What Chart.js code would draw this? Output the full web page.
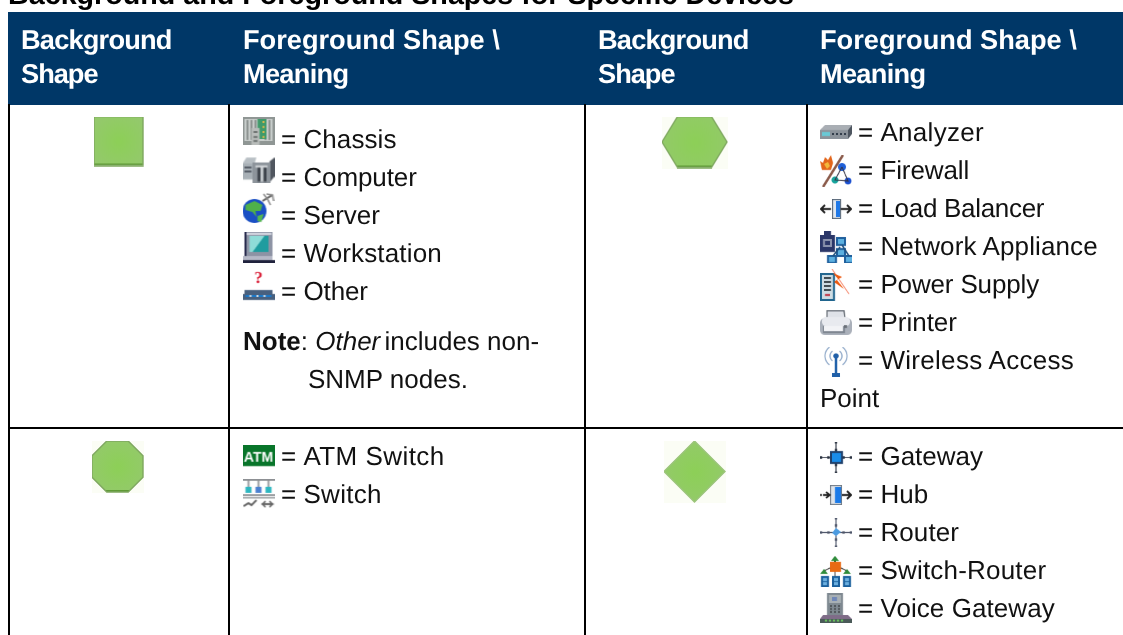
<!DOCTYPE html>
<html><head><meta charset="utf-8">
<style>html,body{margin:0;padding:0;background:#fff;overflow:hidden}#w{position:relative;width:1123px;height:635px}canvas{display:block}</style>
<script src="https://cdn.jsdelivr.net/npm/chart.js@4/dist/chart.umd.min.js"></script>
</head><body><div id="w"><canvas id="c" width="1123" height="635"></canvas></div>
<script>
// ---- content ----
const titleText = 'Background and Foreground Shapes for Specific Devices';
const headerLabels = [['Background','Shape'],['Foreground Shape \\','Meaning'],['Background','Shape'],['Foreground Shape \\','Meaning']];
const backgroundShapes = ['square','hexagon','octagon','diamond'];
const meaningsSquare = ['Chassis','Computer','Server','Workstation','Other'];
const meaningsHexagon = ['Analyzer','Firewall','Load Balancer','Network Appliance','Power Supply','Printer','Wireless Access'];
const meaningsOctagon = ['ATM Switch','Switch'];
const meaningsDiamond = ['Gateway','Hub','Router','Switch-Router','Voice Gateway'];

// ---- layout (pixels of the page, used as the scale domain) ----
const W = 1123, H = 635, LH = 38;
const TABLE_LEFT = 8, HEAD_TOP = 12, HEAD_BOTTOM = 104, ROW_SPLIT = 428;
const RULES_X = [9, 229, 585, 807];
const HEAD_X = [21, 243, 598, 820];
const FONT = '"Liberation Sans", Arial, sans-serif';
const cells = [
  {names: meaningsSquare,  iconX: 258.5, textX: 281, base: 148},
  {names: meaningsHexagon, iconX: 836,   textX: 858, base: 141},
  {names: meaningsOctagon, iconX: 258.5, textX: 281, base: 465},
  {names: meaningsDiamond, iconX: 836,   textX: 858, base: 465},
];
const shapeSpots = [{x:119,y:141.5,w:50,h:50},{x:695,y:142.5,w:66,h:52},{x:118,y:467,w:52,h:52},{x:695,y:472,w:62,h:62}];
// centre offset of each icon from its text baseline, and its size
const iconBoxes = {
  Chassis:[-17,32,28],Computer:[-16.5,32,26],Server:[-16,32,30],Workstation:[-14.5,32,31],Other:[-15,32,32],
  Analyzer:[-9,32,14],Firewall:[-8,32,32],'Load Balancer':[-8,32,20],'Network Appliance':[-8,32,32],'Power Supply':[-8,30,32],Printer:[-8.5,32,25],'Wireless Access':[-7,32,30],
  'ATM Switch':[-9,32,22],Switch:[-9.5,32,29],
  Gateway:[-7.5,32,31],Hub:[-8,32,20],Router:[-8.5,32,29],'Switch-Router':[-7.5,32,31],'Voice Gateway':[-9,32,30]
};
// small tracking corrections so string widths follow the reference's hinted text
const tracking = {
  Background:-0.8,Shape:-1,Meaning:-0.7,
  'ATM Switch':0.45,Switch:0.3,Workstation:0.15,Computer:-0.1,Chassis:0.1,Other:-0.1,
  Analyzer:0.3,Firewall:-0.1,'Load Balancer':-0.3,'Network Appliance':0.12,'Power Supply':-0.15,'Wireless Access':0.3,
  Router:0.1,'Switch-Router':0.2,'Voice Gateway':0.07
};
const track = s => (tracking[s]||0)+'px';

// ---- icon painters ----
function R(g,c,x,y,w,h){g.fillStyle=c;g.fillRect(x,y,w,h);}
function P(g,c,pts){g.fillStyle=c;g.beginPath();pts.forEach((p,i)=>i?g.lineTo(p[0],p[1]):g.moveTo(p[0],p[1]));g.closePath();g.fill();}
function L(g,c,w,pts){g.strokeStyle=c;g.lineWidth=w;g.beginPath();pts.forEach((p,i)=>i?g.lineTo(p[0],p[1]):g.moveTo(p[0],p[1]));g.stroke();}
function C(g,c,x,y,r){g.fillStyle=c;g.beginPath();g.arc(x,y,r,0,7);g.fill();}
function arrows(g,c,cx,cy,dx,dy){
  for(let i=-2;i<=2;i++){ if(i===0)continue; R(g,c,cx+i*dx/2-1.2,cy-1.2,2.4,2.4); R(g,c,cx-1.2,cy+i*dy/2-1.2,2.4,2.4);}
  L(g,c,1,[[cx-dx,cy],[cx+dx,cy]]);L(g,c,1,[[cx,cy-dy],[cx,cy+dy]]);
}
const painters = {
  Chassis(g){R(g,'#8f9694',0,0,32,28);R(g,'#c9cecc',2,2,28,22);[4,8,12,22,26].forEach(x=>R(g,'#8d9391',x,3,2,20));R(g,'#3f9a6a',15,2,9,20);[4,9,14,19].forEach(y=>R(g,'#d8b64c',20,y,2,2));R(g,'#b9bdbb',9,11,8,17);R(g,'#6f7472',11,14,4,2);R(g,'#6f7472',11,19,4,2);R(g,'#6f7472',11,23,4,2);},
  Computer(g){P(g,'#b8bfc4',[[0,7],[4,1],[14,1],[12,7]]);R(g,'#a8b0b6',0,7,11,16);R(g,'#555c66',2,10,7,2);R(g,'#555c66',2,14,7,2);P(g,'#50565f',[[27,5],[32,1],[32,20],[27,26]]);R(g,'#8d949b',10,6,18,20);R(g,'#d6d9dc',13,9,12,2);R(g,'#3d434b',15,11,3,14);R(g,'#3d434b',21,11,3,14);R(g,'#c5cace',18,11,3,14);},
  Server(g){C(g,'#1a4fc4',12,18,12);P(g,'#4fb04a',[[3,12],[12,8],[20,12],[18,18],[13,18],[14,24],[10,19],[3,17]]);P(g,'#55b84f',[[15,23],[21,21],[19,29],[15,28]]);L(g,'#666',2,[[20,8],[30,2]]);L(g,'#888',1.5,[[24,1],[30,2],[31,8]]);L(g,'#888',1.5,[[21,1],[25,6],[28,12]]);},
  Workstation(g){R(g,'#8d93a4',2,0,28,24);R(g,'#24274a',2,0,2,24);R(g,'#d6d8e2',4,1,25,2);P(g,'#1f9c9f',[[7,4],[26,4],[26,20],[7,20]]);P(g,'#8fdcd8',[[7,4],[22,4],[10,20],[7,20]]);R(g,'#b5b8c6',0,24,30,4);R(g,'#20223d',0,28,32,3);},
  Other(g){g.font='bold 17px "Liberation Serif",serif';g.fillStyle='#d8152f';g.textAlign='center';g.fillText('?',16,14);R(g,'#48607e',2,21,28,4);P(g,'#48607e',[[0,25],[32,25],[32,31],[0,31]]);R(g,'#1b78c8',3,26,26,2);R(g,'#d4d8de',7,26,2,2);R(g,'#d4d8de',14,26,2,2);R(g,'#d4d8de',21,26,2,2);},
  Analyzer(g){P(g,'#a9aeb4',[[0,5],[5,0],[32,0],[28,5]]);R(g,'#8c939b',0,5,28,9);P(g,'#4d555f',[[28,5],[32,0],[32,9],[28,14]]);R(g,'#69c9d6',2,7,8,4);[12,16,20,24].forEach(x=>R(g,'#2f3a48',x,8,2,2));},
  Firewall(g){P(g,'#e3651a',[[0,6],[3,8],[5,2],[8,5],[11,0],[13,8],[11,15],[2,15]]);P(g,'#f3b73a',[[4,9],[8,7],[10,11],[7,14]]);L(g,'#8a5a4a',2.5,[[23,0],[3,32]]);C(g,'#1f5fd8',22,12,4);C(g,'#16a39c',15,25,3.5);C(g,'#1a4fd0',28,26,3.5);L(g,'#334',1,[[22,12],[15,25],[28,26],[22,12]]);},
  'Load Balancer'(g){R(g,'#4e5e70',12,0,9,20);R(g,'#dfe6ee',13,1,7,18);R(g,'#1e78e8',16,2,4,16);L(g,'#222',2,[[1,10],[11,10]]);L(g,'#222',2,[[5,6],[1,10],[5,14]]);L(g,'#222',2,[[21,10],[31,10]]);L(g,'#222',2,[[27,6],[31,10],[27,14]]);},
  'Network Appliance'(g){R(g,'#2a3668',0,4,15,17);R(g,'#2a3668',4,0,7,5);R(g,'#8b93ad',3,8,9,8);R(g,'#2a3668',5,10,5,4);[[17,7],[8,25],[25,25],[17,18]].forEach(p=>{R(g,'#1f5f9c',p[0]-1,p[1]-1,10,9);R(g,'#5cb0e0',p[0]+1,p[1]+1,6,5);});L(g,'#1f4f7c',1.5,[[20,16],[13,25]]);L(g,'#1f4f7c',1.5,[[22,14],[29,25]]);},
  'Power Supply'(g){R(g,'#20658e',0,4,15,28);R(g,'#cfdde4',2,6,11,24);[8,12,16,20].forEach(y=>R(g,'#404a50',4,y,7,2));R(g,'#c03040',5,25,5,2);L(g,'#f58a70',1,[[12,0],[29,25]]);P(g,'#ee5a10',[[13,4],[22,8],[17,11],[24,20],[14,13],[18,10]]);},
  Printer(g){P(g,'#dfe2e8',[[7,0],[24,0],[25,8],[6,8]]);L(g,'#6a7078',1.3,[[7,8],[7,1],[24,1],[25,8]]);g.fillStyle='#aab0ba';g.beginPath();g.roundRect(0,8,32,17,5);g.fill();g.fillStyle='#e8eaef';g.beginPath();g.roundRect(2,7,28,9,4);g.fill();R(g,'#7d8590',3,16,22,7);R(g,'#f2f3f6',4,16,19,5);R(g,'#6a7078',24,15,3,3);},
  'Wireless Access'(g){L(g,'#1f5fa8',2.6,[[16,9],[16,27]]);C(g,'#1f5fa8',16,9,2.7);R(g,'#1f5fa8',12,26,8,4);g.lineWidth=1.2;g.strokeStyle='#8ea8c8';[[5,Math.PI*.7,Math.PI*1.3],[10,Math.PI*.7,Math.PI*1.3],[5,-Math.PI*.3,Math.PI*.3],[10,-Math.PI*.3,Math.PI*.3]].forEach(a=>{g.beginPath();g.arc(16,9,a[0]+1,a[1],a[2]);g.stroke();});},
  'ATM Switch'(g){R(g,'#08752a',0,0,32,22);g.font='bold 14px "Liberation Sans",sans-serif';g.fillStyle='#fff';g.textAlign='center';g.fillText('ATM',16,16.5);R(g,'#e6f0e6',0,21,32,1);},
  Switch(g){R(g,'#8d9094',0,0,32,2);[5,15,25].forEach((x,i)=>{R(g,'#9a9da0',x,2,2,6);R(g,i===1?'#4a80d0':'#2cb6c0',x-2,8,6,6);});R(g,'#9a9da0',0,15,32,2);R(g,'#a4a8ac',0,18,32,1.5);L(g,'#666',2,[[1,27],[6,24],[9,26],[14,21]]);L(g,'#666',2,[[19,25],[31,25]]);L(g,'#666',1.5,[[23,22],[20,25],[23,28]]);L(g,'#666',1.5,[[27,22],[30,25],[27,28]]);},
  Gateway(g){arrows(g,'#2a3240',16,15.5,15,15);R(g,'#1f3f6a',10,9,13,13);R(g,'#1a8ce8',12,11,9,9);},
  Hub(g){R(g,'#6a7480',10,0,12,20);R(g,'#dde3ea',11,1,10,18);R(g,'#1a7ae8',15,2,6,16);L(g,'#222',2,[[3,10],[10,10]]);L(g,'#222',1.6,[[6,7],[10,10],[6,13]]);L(g,'#222',2,[[22,10],[31,10]]);L(g,'#222',2,[[27,6],[31,10],[27,14]]);R(g,'#444',0,9,2,2);},
  Router(g){arrows(g,'#4c5468',16,14.5,15,14);P(g,'#4c9be0',[[16,10],[21,14],[16,18],[12,15]]);},
  'Switch-Router'(g){L(g,'#2a6a2a',2,[[15,1],[15,7]]);P(g,'#2e8b3a',[[15,0],[19,5],[11,5]]);R(g,'#e86a14',10,6,11,10);L(g,'#333',1,[[10,12],[4,15]]);L(g,'#333',1,[[21,12],[27,15]]);L(g,'#333',1,[[15,16],[15,20]]);P(g,'#2e8b3a',[[4,13],[8,18],[0,18]]);P(g,'#2e8b3a',[[27,13],[31,18],[23,18]]);[1,12,23].forEach(x=>{R(g,'#1a5f9c',x,20,8,11);R(g,'#6cb0e0',x+2,22,4,3);R(g,'#6cb0e0',x+2,26,4,3);});},
  'Voice Gateway'(g){R(g,'#7e8890',7,0,16,23);R(g,'#a8b0b4',9,2,12,8);R(g,'#6f87b8',12,4,5,4);for(let r=0;r<3;r++)for(let c=0;c<3;c++)R(g,'#52585c',10+c*4,12+r*3,2,2);P(g,'#7f6c88',[[3,22],[28,22],[32,26],[0,26]]);R(g,'#4a5a58',0,26,32,4);[5,9,13,17,21].forEach(x=>R(g,'#6ed060',x,26.5,2,2));}
};
function shapePath(g,kind,w,h){
  g.beginPath();
  if(kind==='square'){g.rect(0,0,w,h);}
  if(kind==='hexagon'){[[w*.24,0],[w*.76,0],[w,h/2],[w*.76,h],[w*.24,h],[0,h/2]].forEach((p,i)=>i?g.lineTo(p[0],p[1]):g.moveTo(p[0],p[1]));}
  if(kind==='octagon'){const k=w*.29;[[k,0],[w-k,0],[w,k],[w,h-k],[w-k,h],[k,h],[0,h-k],[0,k]].forEach((p,i)=>i?g.lineTo(p[0],p[1]):g.moveTo(p[0],p[1]));}
  if(kind==='diamond'){[[w/2,0],[w,h/2],[w/2,h],[0,h/2]].forEach((p,i)=>i?g.lineTo(p[0],p[1]):g.moveTo(p[0],p[1]));}
  g.closePath();
}
function shapeSprite(kind,w,h){
  const c=document.createElement('canvas');c.width=w;c.height=h;const g=c.getContext('2d');
  if(kind!=='square'){R(g,'#fbfdf5',0,0,w,h);}
  shapePath(g,kind,w-1,h-1);g.fillStyle='#8fcb60';g.fill();
  g.save();g.clip();
  const i=g.createRadialGradient(w/2,h/2,2,w/2,h/2,w*.6);i.addColorStop(0,'#8dcf58');i.addColorStop(1,'#94c96c');g.fillStyle=i;g.fillRect(0,0,w,h);
  g.fillStyle=kind==='diamond'?'rgba(0,0,0,0)':'#5f9a36';g.fillRect(0,h-3,w,3);
  g.restore();
  shapePath(g,kind,w-1,h-1);g.lineWidth=1.4;g.strokeStyle=kind==='diamond'?'#9cc47c':'#7fa860';g.stroke();
  return c;
}
function iconSprite(name,w,h){
  const raw=document.createElement('canvas');raw.width=w*3;raw.height=h*3;const g=raw.getContext('2d');
  g.scale(3,3);painters[name](g);
  const c=document.createElement('canvas');c.width=w;c.height=h;const o=c.getContext('2d');
  o.imageSmoothingQuality='high';o.filter='blur(0.35px)';o.drawImage(raw,0,0,w,h);
  return c;
}

// ---- chart points ----
const shapePoints = shapeSpots.map(s=>({x:s.x,y:s.y}));
const shapeStyles = backgroundShapes.map((k,i)=>shapeSprite(k,shapeSpots[i].w,shapeSpots[i].h));
const iconPoints=[],iconStyles=[];
cells.forEach(cell=>cell.names.forEach((n,i)=>{
  const b=iconBoxes[n];
  iconPoints.push({x:cell.iconX-(32-b[1])/2,y:cell.base+i*LH+b[0]});
  iconStyles.push(iconSprite(n,b[1],b[2]));
}));

const tablePlugin = {
  id:'table',
  beforeDatasetsDraw(chart){
    const g=chart.ctx, X=chart.scales.x, Y=chart.scales.y;
    const px=v=>X.getPixelForValue(v), py=v=>Y.getPixelForValue(v);
    g.save();
    g.fillStyle='#fff';g.fillRect(0,0,W,H);
    g.fillStyle='#003767';g.fillRect(px(TABLE_LEFT),py(HEAD_TOP),W-TABLE_LEFT,HEAD_BOTTOM-HEAD_TOP+1);
    g.fillStyle='#000';
    RULES_X.forEach(x=>g.fillRect(px(x)-1,py(HEAD_BOTTOM),2,H-HEAD_BOTTOM));
    g.fillRect(px(TABLE_LEFT),py(ROW_SPLIT)-1,W-TABLE_LEFT,2);
    g.textBaseline='alphabetic';g.textAlign='left';
    g.textRendering='geometricPrecision';
    g.filter='blur(0.3px)';
    g.fillStyle='#000';g.font='bold 28.7px '+FONT;
    g.fillText(titleText,px(8),py(4));
    g.fillStyle='#fff';g.font='bold 27.2px '+FONT;
    headerLabels.forEach((ls,c)=>ls.forEach((t,i)=>{g.letterSpacing=track(t);g.fillText(t,px(HEAD_X[c]),py(49+i*34));}));
    g.fillStyle='#111';g.font='26px '+FONT;
    cells.forEach(cell=>cell.names.forEach((n,i)=>{
      g.letterSpacing='0px';g.fillText('= ',px(cell.textX),py(cell.base+i*LH));
      const dx=g.measureText('= ').width;
      g.letterSpacing=track(n);g.fillText(n,px(cell.textX+dx),py(cell.base+i*LH));
    }));
    g.letterSpacing='0px';
    g.fillText('Point',px(820),py(407));
    // rich-text note
    let x=243;const y=350;
    [['bold 26px ','Note',0],['26px ',': ',0],['italic 26px ','Other',0],['26px ',' includes non-',-3]].forEach(r=>{
      x+=r[2];g.font=r[0]+FONT;g.fillText(r[1],px(x),py(y));x+=g.measureText(r[1]).width;});
    g.font='26px '+FONT;g.fillText('SNMP nodes.',px(308),py(388));
    g.restore();
  }
};

new Chart(document.getElementById('c'),{
  type:'scatter',
  data:{datasets:[
    {label:'Background shape',data:shapePoints,pointStyle:shapeStyles,pointRadius:10,pointHoverRadius:10,clip:false},
    {label:'Foreground shape',data:iconPoints,pointStyle:iconStyles,pointRadius:10,pointHoverRadius:10,clip:false}
  ]},
  options:{
    responsive:false,animation:false,devicePixelRatio:1,
    layout:{padding:0,autoPadding:false},
    events:[],
    plugins:{legend:{display:false},tooltip:{enabled:false},title:{display:false}},
    scales:{
      x:{type:'linear',display:false,min:0,max:W},
      y:{type:'linear',display:false,min:0,max:H,reverse:true}
    }
  },
  plugins:[tablePlugin]
});
</script></body></html>
